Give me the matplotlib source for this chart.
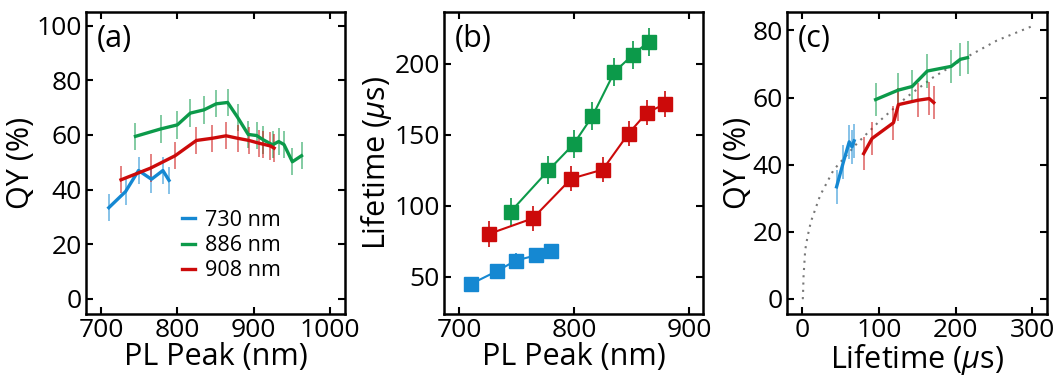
import numpy as np
import matplotlib
matplotlib.use('Agg')
import matplotlib.pyplot as plt

################################################################################

plt.rcParams['font.family'] = ['Open Sans', 'DejaVu Sans']
plt.rcParams['mathtext.fontset'] = 'custom'
plt.rcParams['mathtext.it'] = 'Open Sans:italic'
plt.rcParams['mathtext.rm'] = 'Open Sans'

c_blue = '#1588d2'
c_green = '#0c9a4a'
c_red = '#cc0a0a'

# (a) QY vs PL peak
peak_730 = [710, 732, 749, 766, 781, 789]
qy_730 = [33.4, 39.3, 47.0, 43.8, 47.0, 43.4]
peak_886 = [745, 778, 800, 817, 835, 851, 866, 879, 893, 904, 913, 925, 933, 940, 951, 963]
qy_886 = [59.5, 62.2, 63.7, 68.0, 69.2, 71.4, 71.9, 66.5, 60.2, 59.8, 58.2, 56.4, 57.6, 56.5, 50.2, 52.4]
peak_908 = [726, 765, 797, 825, 846, 864, 879, 894, 907, 913, 922, 927]
qy_908 = [43.6, 47.9, 52.4, 58.0, 58.8, 59.7, 58.8, 58.0, 57.0, 56.6, 56.0, 55.2]
qy_err = 5

# (b) lifetime vs PL peak
lt_peak_730 = [710.5, 732.6, 749.4, 766.6, 780.2]
lt_730 = [44.8, 53.7, 61.3, 64.9, 67.7]
lt_peak_886 = [744.8, 777.6, 799.4, 815.7, 834.9, 850.6, 864.5]
lt_886 = [95.7, 124.9, 143.3, 163.0, 194.3, 206.1, 215.5]
lt_peak_908 = [726.2, 764.0, 797.4, 824.7, 847.1, 863.1, 878.5]
lt_908 = [80.1, 91.0, 119.0, 125.4, 150.8, 165.6, 171.5]
lt_err = {'730': 5, '886': 10, '908': 9}

# (c) QY vs lifetime
qy_c_730 = [33.4, 40.8, 46.8, 45.3, 47.1]
qy_c_886 = [59.4, 62.2, 63.3, 67.9, 69.3, 71.4, 71.9]
qy_c_908 = [43.3, 47.8, 52.5, 57.9, 59.2, 59.7, 58.5]

# guide curve
fit_t = [0, 0.9, 1.7, 3.9, 6.9, 11.3, 23.5, 40.8, 71.3, 101.7, 136.5, 171.2, 214.7, 253.8, 300]
fit_qy = [0, 0.2, 6.6, 14.6, 18.5, 23.0, 30.9, 38.4, 46.3, 53.2, 60.2, 66.1, 72.1, 77.0, 81.3]

################################################################################

fig = plt.figure(figsize=(10.6, 3.75), dpi=100)
ax_a = fig.add_axes([0.0811, 0.1627, 0.2443, 0.8053])
ax_b = fig.add_axes([0.4189, 0.1627, 0.2446, 0.8053])
ax_c = fig.add_axes([0.7427, 0.1627, 0.2453, 0.8053])

tick_fs = 19
label_fs = 22

def style(ax):
    for s in ax.spines.values():
        s.set_linewidth(1.8)
    ax.tick_params(direction='in', top=True, right=True, length=5, width=1.5,
                   labelsize=tick_fs, pad=3)

def qy_line(ax, x, y, color, label=None):
    ax.errorbar(x, y, yerr=qy_err, fmt='none', ecolor=color, elinewidth=1.2,
                alpha=0.6, capsize=0, zorder=2)
    ax.plot(x, y, color=color, lw=2.4, label=label, zorder=3)

# (a)
qy_line(ax_a, peak_730, qy_730, c_blue, '730 nm')
qy_line(ax_a, peak_886, qy_886, c_green, '886 nm')
qy_line(ax_a, peak_908, qy_908, c_red, '908 nm')
ax_a.set_xlim(680, 1020)
ax_a.set_ylim(-5.5, 105)
ax_a.set_xticks([700, 800, 900, 1000])
ax_a.set_yticks([0, 20, 40, 60, 80, 100])
ax_a.set_xlabel("PL Peak (nm)", fontsize=label_fs, labelpad=-1)
ax_a.set_ylabel("QY (%)", fontsize=label_fs, labelpad=0)
ax_a.legend(loc='upper left', bbox_to_anchor=(0.37, 0.345), frameon=False,
            fontsize=15.5, handlelength=0.6, handletextpad=0.5,
            labelspacing=0.2, borderpad=0, borderaxespad=0)
ax_a.text(0.04, 0.96, "(a)", transform=ax_a.transAxes, fontsize=label_fs,
          va='top', ha='left')
style(ax_a)

# (b)
for x, y, k, col in [(lt_peak_730, lt_730, '730', c_blue),
                     (lt_peak_886, lt_886, '886', c_green),
                     (lt_peak_908, lt_908, '908', c_red)]:
    ax_b.errorbar(x, y, yerr=lt_err[k], fmt='s-', color=col, ms=9.5, lw=1.5,
                  elinewidth=1.2, capsize=0)
ax_b.set_xlim(687, 912)
ax_b.set_ylim(23.6, 236.5)
ax_b.set_xticks([700, 800, 900])
ax_b.set_yticks([50, 100, 150, 200])
ax_b.set_xlabel("PL Peak (nm)", fontsize=label_fs, labelpad=-1)
ax_b.set_ylabel(r"Lifetime ($\mu$s)", fontsize=label_fs, labelpad=0)
ax_b.text(0.04, 0.96, "(b)", transform=ax_b.transAxes, fontsize=label_fs,
          va='top', ha='left')
style(ax_b)

# (c)
ax_c.plot(fit_t, fit_qy, color='#777777', lw=1.5, ls=(0, (1, 2.5)), zorder=1)
qy_line(ax_c, lt_730, qy_c_730, c_blue)
qy_line(ax_c, lt_886, qy_c_886, c_green)
qy_line(ax_c, lt_908, qy_c_908, c_red)
ax_c.set_xlim(-19.5, 319.5)
ax_c.set_ylim(-4.5, 85.5)
ax_c.set_xticks([0, 100, 200, 300])
ax_c.set_yticks([0, 20, 40, 60, 80])
ax_c.set_xlabel(r"Lifetime ($\mu$s)", fontsize=label_fs, labelpad=-1)
ax_c.set_ylabel("QY (%)", fontsize=label_fs, labelpad=0)
ax_c.text(0.04, 0.96, "(c)", transform=ax_c.transAxes, fontsize=label_fs,
          va='top', ha='left')
style(ax_c)

fig.savefig("out.png", dpi=100)
